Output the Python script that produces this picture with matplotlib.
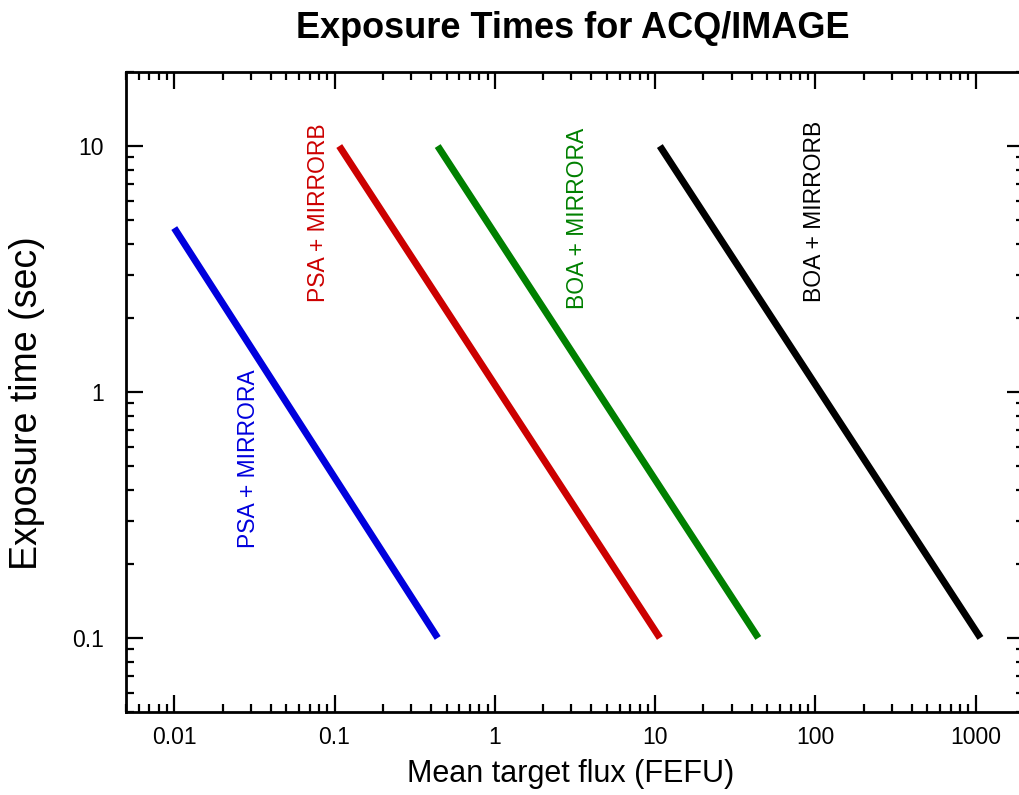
import matplotlib
matplotlib.use("Agg")
import matplotlib.pyplot as plt
from matplotlib.ticker import LogLocator, FixedLocator, FixedFormatter, NullFormatter

plt.rcParams["font.family"] = ["Liberation Sans", "DejaVu Sans"]

# line endpoints (straight lines on log-log axes)
labels = ["PSA + MIRRORA", "PSA + MIRRORB", "BOA + MIRRORA", "BOA + MIRRORB"]
colors = ["#0000dd", "#cc0000", "#008000", "#000000"]
flux_start = [0.01, 0.107, 0.44, 10.7]
flux_end = [0.44, 10.7, 44.0, 1070.0]
time_start = [4.64, 10.0, 10.0, 10.0]
time_end = [0.1, 0.1, 0.1, 0.1]

# label anchor points (data coordinates)
label_x = [0.0291, 0.0789, 3.29, 98.6]
label_y = [0.534, 5.37, 5.10, 5.44]

xticks = [0.01, 0.1, 1, 10, 100, 1000]
xticklabels = ["0.01", "0.1", "1", "10", "100", "1000"]
yticks = [0.1, 1, 10]
yticklabels = ["0.1", "1", "10"]

fig = plt.figure(figsize=(10.2, 7.95), dpi=100)
ax = fig.add_axes([126 / 1020, 1 - 712 / 795, 898 / 1020, 640 / 795])

for i in range(len(labels)):
    ax.plot([flux_start[i], flux_end[i]], [time_start[i], time_end[i]],
            color=colors[i], lw=5, solid_capstyle="butt")
    ax.text(label_x[i], label_y[i], labels[i], color=colors[i], rotation=90,
            ha="center", va="center", fontsize=16.5)

ax.set_xscale("log")
ax.set_yscale("log")
ax.set_xlim(0.005, 2000)
ax.set_ylim(0.05, 20)

ax.xaxis.set_major_locator(FixedLocator(xticks))
ax.xaxis.set_major_formatter(FixedFormatter(xticklabels))
ax.yaxis.set_major_locator(FixedLocator(yticks))
ax.yaxis.set_major_formatter(FixedFormatter(yticklabels))
ax.xaxis.set_minor_locator(LogLocator(base=10, subs=range(2, 10), numticks=20))
ax.yaxis.set_minor_locator(LogLocator(base=10, subs=range(2, 10), numticks=20))
ax.xaxis.set_minor_formatter(NullFormatter())
ax.yaxis.set_minor_formatter(NullFormatter())

ax.tick_params(which="both", direction="in", top=True, right=True, width=1.6)
ax.tick_params(which="major", length=12, labelsize=16.5)
ax.tick_params(which="minor", length=6)
ax.tick_params(axis="x", which="major", pad=10)
ax.tick_params(axis="y", which="major", pad=16)

for sp in ax.spines.values():
    sp.set_linewidth(2)

ax.set_xlabel("Mean target flux (FEFU)", fontsize=22)
ax.xaxis.set_label_coords(0.4955, -0.073)
ax.set_ylabel("Exposure time (sec)", fontsize=27)
ax.yaxis.set_label_coords(-0.09, 0.482)
fig.text(573 / 1020, 1 - 29 / 795, "Exposure Times for ACQ/IMAGE",
         ha="center", va="center", fontsize=26, fontweight="bold")

fig.savefig("out.png", dpi=100)
